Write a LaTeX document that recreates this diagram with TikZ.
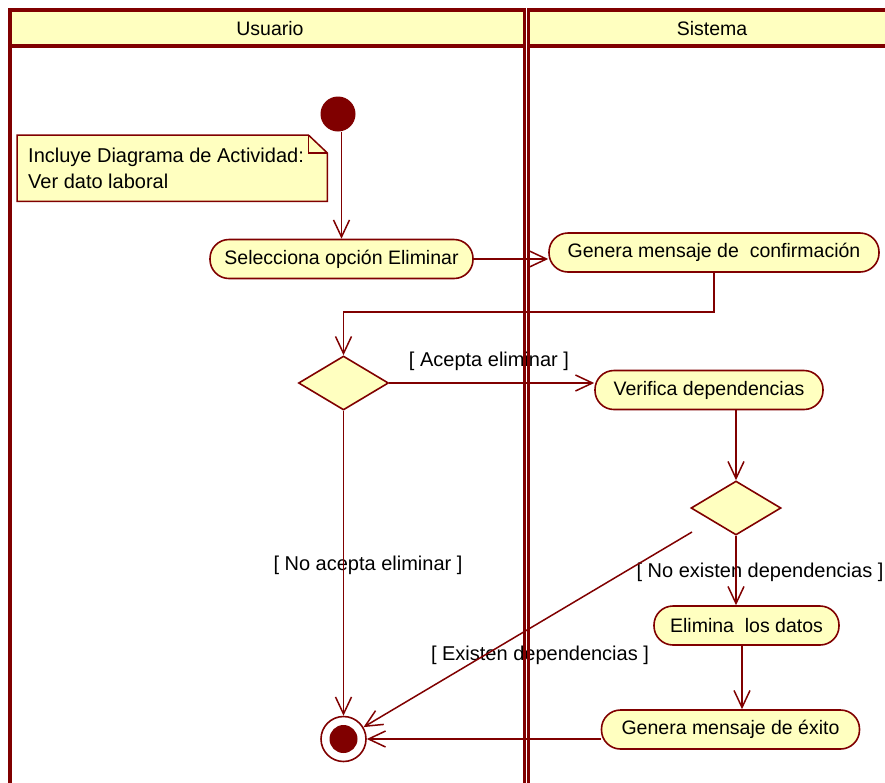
\documentclass[tikz,border=0pt]{standalone}
\usepackage{fontspec}
\setmainfont{Liberation Sans}
\usetikzlibrary{arrows.meta,shapes.geometric,backgrounds}
\definecolor{umlred}{RGB}{128,0,0}
\definecolor{umlyel}{RGB}{255,255,192}
\begin{document}
\begin{tikzpicture}[x=1pt,y=-1pt,
  lane/.style={draw=umlred,line width=3.6pt},
  act/.style={draw=umlred,fill=umlyel,line width=1.6pt,rounded corners=19pt,minimum height=39pt,inner sep=0pt,font=\fontsize{19.5pt}{24pt}\selectfont},
  dec/.style={diamond,draw=umlred,fill=umlyel,line width=1.6pt,minimum width=90pt,minimum height=54pt,inner sep=0pt},
  flow/.style={draw=umlred,line width=1.5pt,-{Straight Barb[length=17pt,width=16pt]}},
  guard/.style={font=\fontsize{20pt}{24pt}\selectfont,inner sep=0pt},
  head/.style={font=\fontsize{19.5pt}{23pt}\selectfont,inner sep=0pt},
  notebox/.style={inner xsep=11pt,inner ysep=0pt,text width=288pt,minimum height=66pt,align=flush left,anchor=north west,font=\fontsize{20pt}{26pt}\selectfont}
]
\useasboundingbox (0,0) rectangle (885,782);
\clip (0,0) rectangle (885,782);

% header fills
\fill[umlyel] (10,10) rectangle (524.5,46);
\fill[umlyel] (528.5,10) rectangle (895,46);
\node[head] (husr) at (270,29) {Usuario};
\node[head] (hsys) at (712,29) {Sistema};

% note
\node[notebox] (note) at (17,135) {Incluye Diagrama de Actividad:\\Ver dato laboral};
\begin{scope}[on background layer]
\fill[white] (0,0) rectangle (885,782);
\draw[draw=umlred,fill=umlyel,line width=1.5pt]
  (note.north west) -- ([xshift=-19pt]note.north east) -- ([yshift=-18pt]note.north east)
  -- (note.south east) -- (note.south west) -- cycle;
\draw[draw=umlred,line width=1.2pt]
  ([xshift=-19pt]note.north east) -- ([xshift=-19pt,yshift=-18pt]note.north east) -- ([yshift=-18pt]note.north east);
\end{scope}

% nodes
\node[circle,fill=umlred,minimum size=35pt,inner sep=0pt] (start) at (338,114) {};
\node[act,minimum width=263pt] (sel) at (341.5,259) {Selecciona opción Eliminar};
\node[act,minimum width=330pt] (conf) at (714,252.5) {Genera mensaje de~ confirmación};
\node[dec] (d1) at (343.5,383) {};
\node[act,minimum width=228pt] (ver) at (709,390) {Verifica dependencias};
\node[dec] (d2) at (736,508) {};
\node[act,minimum width=185pt] (elim) at (746.5,625.5) {Elimina~ los datos};
\node[act,minimum width=258pt] (exito) at (730.5,729.5) {Genera mensaje de éxito};
\node[circle,draw=umlred,fill=white,line width=1.6pt,minimum size=45pt,inner sep=0pt] (fin) at (343.5,739) {};
\node[circle,fill=umlred,minimum size=28pt,inner sep=0pt] (finin) at (343.5,739) {};

% guard labels
\node[guard] (gacc) at (489,361) {[ Acepta eliminar ]};
\node[guard] (gnoacc) at (368,565) {[ No acepta eliminar ]};
\node[guard] (gnoex) at (760,572) {[ No existen dependencias ]};
\node[guard] (gex) at (540,655) {[ Existen dependencias ]};

% flows
\coordinate (d2out) at (692,532);
\coordinate (cx) at (742,0);
\draw[flow] (start.south -| sel.north) -- (sel.north);
\draw[flow] (sel.east) -- (sel.east -| conf.west);
\draw[flow] (conf.south) -- ++(0,39) -| (d1.north);
\draw[flow] (d1.east) -- (d1.east -| ver.west);
\draw[flow] (d1.south) -- (fin);
\draw[flow] (ver.south -| d2.north) -- (d2.north);
\draw[flow] (d2.south) -- (d2.south |- elim.north);
\draw[flow] (d2out) -- (fin);
\draw[flow] (cx |- elim.south) -- (cx |- exito.north);
\draw[flow] (fin -| exito.west) -- (fin);

% lanes
\draw[lane] (10,800) -- (10,10) -- (524.5,10) -- (524.5,800);
\draw[lane] (10,46) -- (524.5,46);
\draw[lane] (528.5,800) -- (528.5,10) -- (895,10);
\draw[lane] (528.5,46) -- (895,46);
\end{tikzpicture}
\end{document}
